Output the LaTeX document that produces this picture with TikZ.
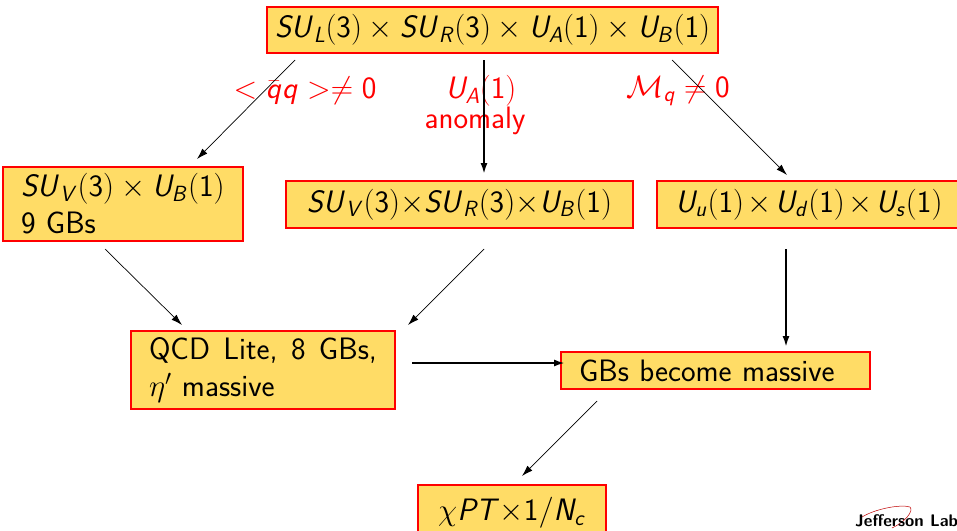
\documentclass[tikz,border=0pt]{standalone}
\usepackage{fix-cm}
\usepackage{amsmath}
\usetikzlibrary{arrows.meta}
\DeclareMathAlphabet{\mathsl}{OT1}{cmss}{m}{sl}
\DeclareMathSizes{31}{31}{22}{16}
\newcommand{\gsym}[3]{\mathsl{#1}_{\mathsl{#2}}(\mathsf{#3})}
\newcommand{\gtimes}{\mkern2mu{\times}\mkern2mu}
\definecolor{boxyellow}{HTML}{FFDC66}
\definecolor{labelred}{HTML}{FF0000}
\tikzset{
    gbox/.style={draw=red, fill=boxyellow, line width=1.5pt, anchor=north west, outer sep=0pt, inner xsep=18pt, inner ysep=0pt, align=left, font=\sffamily\fontsize{31}{37}\selectfont},
    redlabel/.style={text=labelred, font=\sffamily\fontsize{31}{36}\selectfont, inner sep=0pt},
    thinarrow/.style={-{Latex[length=11pt,width=7pt]}, line width=0.7pt},
    thickarrow/.style={-{Latex[length=11pt,width=7pt]}, line width=2pt}
}
\begin{document}
\begin{tikzpicture}[x=1pt,y=-1pt]
    \useasboundingbox (0,0) rectangle (957,530);
    \clip (0,0) rectangle (957,530);

    %boxes
        \node[gbox, inner xsep=8pt, minimum width=451pt, minimum height=46pt] (top) at (267,7) {$\gsym{SU}{L}{3}\times\gsym{SU}{R}{3}\times\gsym{U}{A}{1}\times\gsym{U}{B}{1}$};
        \node[gbox, text width=204pt, minimum height=74pt] (vector) at (3,167) {$\gsym{SU}{V}{3}\times\gsym{U}{B}{1}$\\9 GBs};
        \node[gbox, minimum width=347pt, minimum height=47pt] (middle) at (286,181) {$\gsym{SU}{V}{3}{\times}\gsym{SU}{R}{3}{\times}\gsym{U}{B}{1}$};
        \node[gbox, inner xsep=10pt, minimum width=304pt, minimum height=47pt] (flavor) at (657,181) {$\gsym{U}{u}{1}\gtimes\gsym{U}{d}{1}\gtimes\gsym{U}{s}{1}$};
        \node[gbox, text width=228pt, minimum height=78pt] (lite) at (131,331) {\mbox{QCD\hspace{3pt} Lite,\hspace{3pt} 8\hspace{3pt} GBs,}\\$\eta'$ massive};
        \node[gbox, text width=273pt, minimum height=37pt] (massive) at (561,352) {GBs become massive};
        \node[gbox, inner xsep=19pt, minimum width=188pt, minimum height=56pt] (chipt) at (418,485) {$\chi\mathsl{PT}{\times}\mathsf{1}/\mathsl{N}_{\mathsl{c}}$};

    %red labels
        \node[redlabel] (condensate) at (305,91) {$<\bar{\mathsl{q}}\mathsl{q}>\neq\mathsf{0}$};
        \node[redlabel] (ua) at (481,91) {$\gsym{U}{A}{1}$};
        \node[redlabel] (anomaly) at (475,121) {anomaly};
        \node[redlabel] (mass) at (678,91) {$\mathcal{M}_{\mathsl{q}}\neq\mathsf{0}$};

    %arrow ends
        \coordinate (top-l) at (295,60);
        \coordinate (top-m) at (484,60);
        \coordinate (top-r) at (672,60);
        \coordinate (vector-in) at (197,159);
        \coordinate (middle-in) at (484,174);
        \coordinate (flavor-in) at (787,175);
        \coordinate (vector-out) at (105,249);
        \coordinate (middle-out) at (484,249);
        \coordinate (flavor-out) at (786,249);
        \coordinate (lite-l) at (182,325);
        \coordinate (lite-r) at (408,325);
        \coordinate (lite-out) at (412,363);
        \coordinate (massive-l) at (565,363);
        \coordinate (massive-t) at (786,347);
        \coordinate (massive-out) at (597,401);
        \coordinate (chipt-in) at (522,476);

    %draw arrows
        \draw[thinarrow] (top-l) -- (vector-in);
        \draw[thickarrow] (top-m) -- (middle-in);
        \draw[thinarrow] (top-r) -- (flavor-in);
        \draw[thinarrow] (vector-out) -- (lite-l);
        \draw[thinarrow] (middle-out) -- (lite-r);
        \draw[thickarrow] (flavor-out) -- (massive-t);
        \draw[thickarrow] (lite-out) -- (massive-l);
        \draw[thinarrow] (massive-out) -- (chipt-in);

    %lab mark
        \draw[red!75!black, line width=0.5pt] (862,517) .. controls (875,509) and (900,504) .. (910,507) .. controls (914,511) and (905,522) .. (892,528);
        \node[inner sep=0pt, anchor=west, font=\sffamily\bfseries\fontsize{16.8}{20}\selectfont] (jlab) at (855,521) {Jefferson Lab};
\end{tikzpicture}
\end{document}
